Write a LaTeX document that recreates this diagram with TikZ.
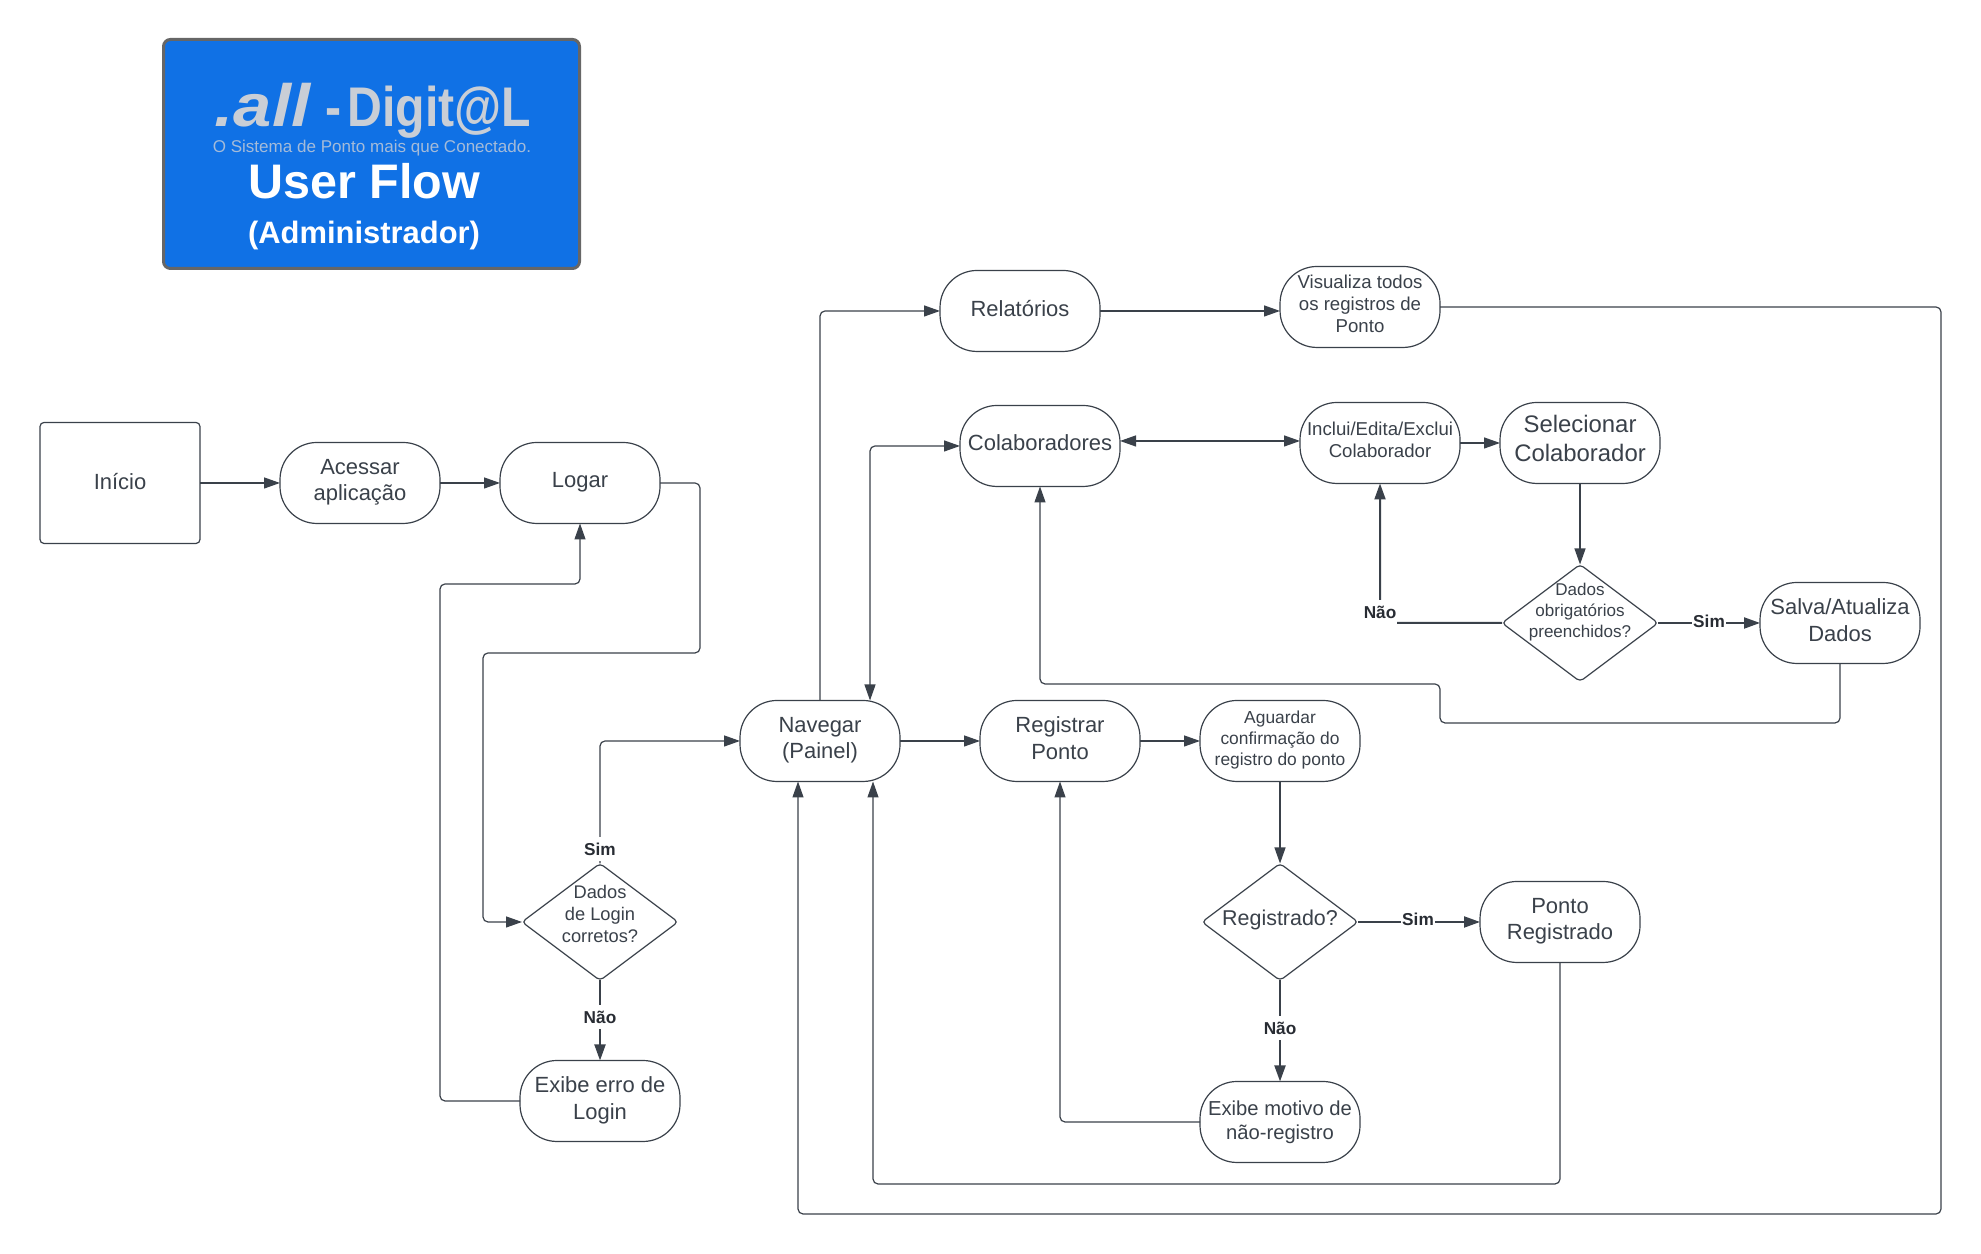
\documentclass[tikz,border=0pt]{standalone}
\usepackage{fontspec}
\setmainfont{Liberation Sans}
\usetikzlibrary{arrows.meta, shapes.geometric}

\definecolor{linha}{HTML}{3A414A}
\definecolor{rotulotxt}{HTML}{282C33}
\definecolor{azul}{HTML}{1071E5}
\definecolor{prata}{HTML}{C9CED6}

\tikzset{
	bloco/.style = {draw=linha, line width=.012cm, text=linha, fill=white, align=center, inner sep=0pt, outer sep=0pt, minimum width=1.6cm, minimum height=.81cm, rounded corners=.37cm, text depth=.06cm, font=\fontsize{6.25}{7.6}\selectfont},
	inicial/.style = {bloco, minimum height=1.21cm, rounded corners=.04cm, text depth=.03cm},
	menor/.style = {font=\fontsize{5.3}{6.2}\selectfont},
	decisao/.style = {diamond, draw=linha, line width=.012cm, fill=white, inner sep=0pt, outer sep=0pt, minimum width=1.56cm, minimum height=1.17cm, rounded corners=.04cm},
	txtdecisao/.style = {text=linha, align=center, inner sep=0pt, font=\fontsize{5.2}{6.3}\selectfont},
	fluxo/.style = {draw=linha, line width=.012cm, rounded corners=.05cm, -{Triangle[length=.16cm,width=.11cm]}},
	duplo/.style = {fluxo, {Triangle[length=.16cm,width=.11cm]}-{Triangle[length=.16cm,width=.11cm]}},
	forte/.style = {fluxo, line width=.02cm},
	rotulo/.style = {fill=white, text=rotulotxt, inner xsep=.01cm, inner ysep=0pt, minimum height=.24cm, font=\fontsize{4.9}{6}\selectfont\bfseries},
}

\begin{document}
\begin{tikzpicture}
	\useasboundingbox (0,0) rectangle (19.81,12.54);

	\node [draw=black!60, line width=.03cm, fill=azul, rounded corners=.07cm, outer sep=0pt, minimum width=4.16cm, minimum height=2.29cm] (cabecalho) at (3.715,11.00) {};
	\node [text=prata, anchor=base west, inner sep=0pt, xscale=1.15, transform shape, font=\fontsize{17}{17}\selectfont\rmfamily\bfseries\itshape] (logoall) at (2.14,11.27) {.all};
	\node [text=prata, anchor=base west, inner sep=0pt, xscale=.863, transform shape, font=\fontsize{15.9}{16}\selectfont\bfseries] (logodigital) at (3.25,11.27) {-\kern-2.5pt{} Digit@L};
	\node [text=prata!80!azul, inner sep=0pt, font=\fontsize{4.85}{5}\selectfont] (logofrase) at (3.72,11.06) {O Sistema de Ponto mais que Conectado.};
	\node [text=white, inner sep=0pt, font=\fontsize{13.8}{14}\selectfont\bfseries] (titulo) at (3.64,10.73) {User Flow};
	\node [text=white, inner sep=0pt, font=\fontsize{8.8}{10}\selectfont\bfseries] (subtitulo) at (3.64,10.18) {(Administrador)};

	\node [inicial] (inicio) at (1.20,7.71) {Início};
	\node [bloco] (acessar) at (3.60,7.71) {Acessar\\aplicação};
	\node [bloco] (logar) at (5.80,7.71) {Logar};
	\node [decisao, label={[txtdecisao, yshift=.08cm]center:{Dados\\de Login\\corretos?}}] (dlogin) at (6.00,3.32) {};
	\node [bloco] (exibeerro) at (6.00,1.53) {Exibe erro de\\Login};
	\node [bloco] (navegar) at (8.20,5.13) {Navegar\\(Painel)};
	\node [bloco] (registrar) at (10.60,5.13) {Registrar\\Ponto};
	\node [bloco, font=\fontsize{4.95}{6}\selectfont] (aguardar) at (12.80,5.13) {Aguardar\\confirmação do\\registro do ponto};
	\node [decisao, label={[txtdecisao, yshift=.02cm, font=\fontsize{6.1}{7}\selectfont]center:{Registrado?}}] (dregistrado) at (12.80,3.32) {};
	\node [bloco] (ponto) at (15.60,3.32) {Ponto\\Registrado};
	\node [bloco, text depth=.03cm, font=\fontsize{5.75}{6.9}\selectfont] (exibemotivo) at (12.80,1.32) {Exibe motivo de\\não-registro};
	\node [bloco] (relatorios) at (10.20,9.43) {Relatórios};
	\node [bloco, menor] (visualiza) at (13.60,9.47) {Visualiza todos\\os registros de\\Ponto};
	\node [bloco] (colaboradores) at (10.40,8.08) {Colaboradores};
	\node [bloco, menor] (inclui) at (13.80,8.11) {Inclui/Edita/Exclui\\Colaborador};
	\node [bloco, text depth=.1cm, font=\fontsize{6.8}{8.2}\selectfont] (selecionar) at (15.80,8.11) {Selecionar\\Colaborador};
	\node [decisao, label={[txtdecisao, yshift=.11cm, font=\fontsize{4.85}{5.9}\selectfont]center:{Dados\\obrigatórios\\preenchidos?}}] (dobrig) at (15.80,6.31) {};
	\node [bloco] (salva) at (18.40,6.31) {Salva/Atualiza\\Dados};

	\draw [fluxo] (inicio) -- (acessar);
	\draw [fluxo] (acessar) -- (logar);
	\draw [fluxo] (logar.east) -- (7.00,7.71) -- (7.00,6.01) -- (4.83,6.01) |- (dlogin.west);
	\draw [fluxo] (dlogin.north) |- (navegar.west);
	\draw [forte] (dlogin) -- (exibeerro);
	\draw [fluxo] (exibeerro.west) -| (4.40,6.70) -| (logar.south);
	\draw [fluxo] (navegar) -- (registrar);
	\draw [fluxo] (registrar) -- (aguardar);
	\draw [fluxo] (aguardar) -- (dregistrado);
	\draw [forte] (dregistrado) -- (ponto);
	\draw [forte] (dregistrado) -- (exibemotivo);
	\draw [fluxo] (exibemotivo.west) -| (registrar.south);
	\draw [fluxo] (ponto.south) |- (8.73,.70) -- ([xshift=.53cm]navegar.south);
	\draw [fluxo] (navegar.north) |- (relatorios.west);
	\draw [fluxo] (relatorios.east) -- (relatorios.east -| visualiza.west);
	\draw [fluxo] (visualiza.east) -- (19.41,9.47) -- (19.41,.40) -| ([xshift=-.22cm]navegar.south);
	\draw [duplo] ([xshift=.5cm]navegar.north) |- (colaboradores.west);
	\draw [duplo] ([yshift=.05cm]colaboradores.east) -- ([yshift=.05cm]colaboradores.east -| inclui.west);
	\draw [fluxo] (inclui) -- (selecionar);
	\draw [fluxo] (selecionar) -- (dobrig);
	\draw [forte] (dobrig.west) -| (inclui.south);
	\draw [forte] (dobrig) -- (salva);
	\draw [fluxo] (salva.south) |- (14.40,5.31) -- (14.40,5.70) -| (colaboradores.south);

	\node [rotulo] (simlogin) at (6.00,4.05) {Sim};
	\node [rotulo] (naologin) at (6.00,2.37) {Não};
	\node [rotulo] (simregistro) at (14.18,3.35) {Sim};
	\node [rotulo] (naoregistro) at (12.80,2.26) {Não};
	\node [rotulo] (naodados) at (13.80,6.42) {Não};
	\node [rotulo] (simdados) at (17.09,6.33) {Sim};
\end{tikzpicture}
\end{document}
